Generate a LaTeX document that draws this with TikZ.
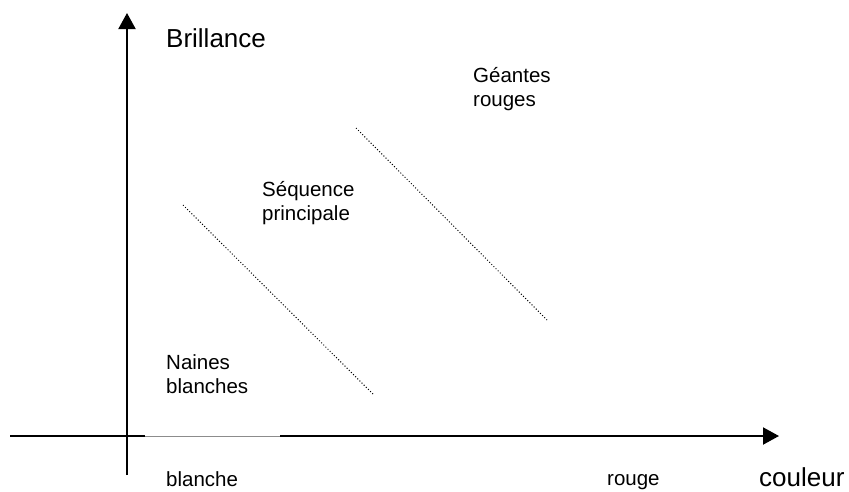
\documentclass[tikz,border=0pt]{standalone}
\usepackage{fontspec}
\setmainfont{Liberation Sans}
\usetikzlibrary{arrows.meta}
\begin{document}
\begin{tikzpicture}[x=1pt,y=-1pt,
  axis/.style={line width=2pt,black},
  axisarrow/.style={axis,-{Triangle[length=16pt,width=17pt]}},
  gapline/.style={line width=1pt,draw=black!45},
  seqline/.style={line width=1pt,dash pattern=on 1pt off 2pt},
  lbl/.style={inner sep=0pt,anchor=base west,align=left,font=\fontsize{20.5}{23.5}\selectfont},
  biglbl/.style={inner sep=0pt,anchor=base west,font=\fontsize{26}{30}\selectfont}]
\useasboundingbox (0,0) rectangle (849,491);
% vertical axis
\coordinate (yb) at (127,475);
\coordinate (yt) at (127,13);
\draw[axisarrow] (yb) -- (yt);
% horizontal axis
\coordinate (xs) at (10,436);
\coordinate (xg1) at (145,436);
\coordinate (xg2) at (280,436);
\coordinate (xe) at (779,436);
\draw[axis] (xs) -- (xg1);
\draw[gapline] (xg1) -- (xg2);
\draw[axisarrow] (xg2) -- (xe);
% dotted sequences
\coordinate (s1a) at (183,205);
\coordinate (s1b) at (374,395);
\coordinate (s2a) at (356,128);
\coordinate (s2b) at (547,320);
\draw[seqline] (s1a) -- (s1b);
\draw[seqline] (s2a) -- (s2b);
% labels (base anchor = baseline of last line)
\node[biglbl] (bri) at (166,47) {Brillance};
\node[lbl] (gea) at (473,106) {Géantes\\rouges};
\node[lbl] (seq) at (262,220) {Séquence\\principale};
\node[lbl] (nai) at (166,393) {Naines\\blanches};
\node[lbl] (bla) at (166,486) {blanche};
\node[lbl] (rou) at (607,485) {rouge};
\node[biglbl] (cou) at (759,486) {couleur};
\end{tikzpicture}
\end{document}
